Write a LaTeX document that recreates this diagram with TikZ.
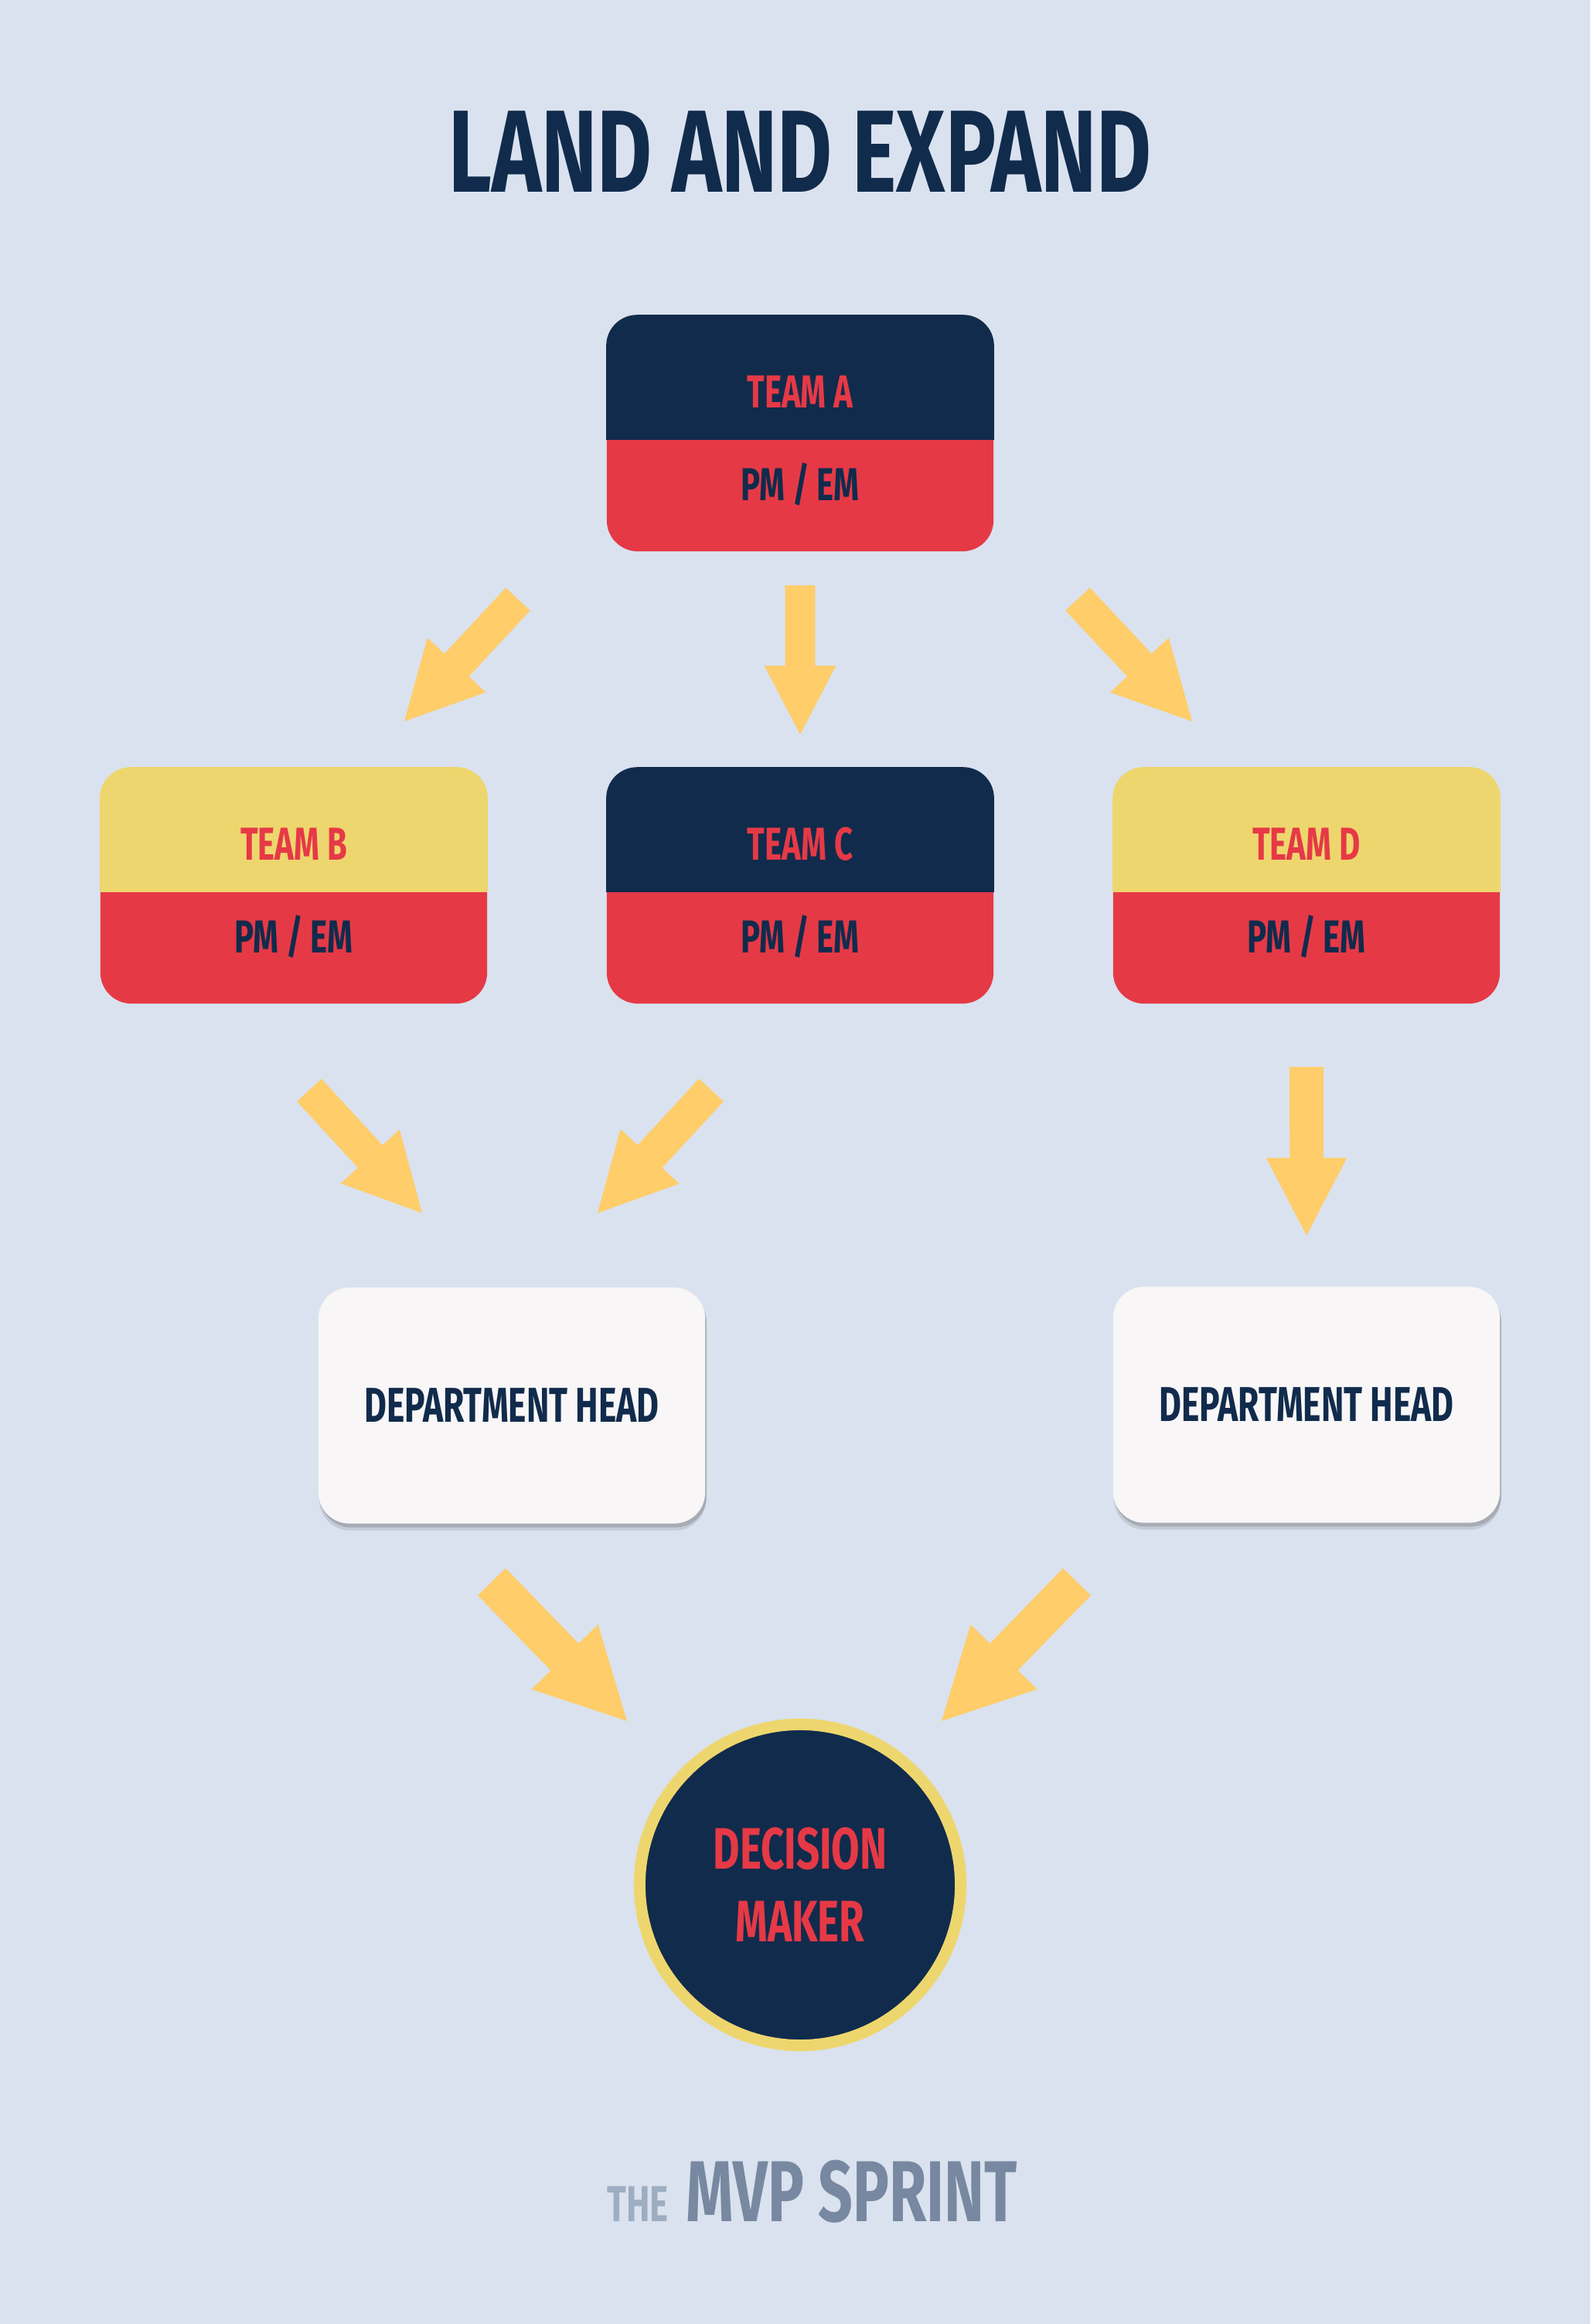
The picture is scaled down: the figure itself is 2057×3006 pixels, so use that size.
\documentclass[tikz,border=0pt]{standalone}
\usepackage{fontspec}
\setmainfont{Fira Sans}
\newfontfamily\condfont{Fira Sans}[FakeStretch=0.7]
\newfontfamily\titlefont{Fira Sans}[FakeStretch=0.72]
\usetikzlibrary{calc,shadows}
\definecolor{bgblue}{HTML}{DAE2EF}
\definecolor{navy}{HTML}{112B4C}
\definecolor{teamred}{HTML}{E63946}
\definecolor{teamyellow}{HTML}{EED66E}
\definecolor{arrowyellow}{HTML}{FFCD69}
\definecolor{cardwhite}{HTML}{F8F6F7}
\definecolor{footgray}{HTML}{7788A0}
\definecolor{footlight}{HTML}{9EAEC2}

\begin{document}
\begin{tikzpicture}[x=0.01cm, y=-0.01cm,
    box/.style={minimum width=5cm, minimum height=3.05cm, rounded corners=0.4cm, inner sep=0pt},
    lbl/.style={font=\condfont\bfseries\fontsize{17}{20}\selectfont, inner sep=0pt, anchor=base},
    card/.style={box, fill=cardwhite, text=navy, font=\condfont\bfseries\fontsize{18}{20}\selectfont,
      drop shadow={shadow xshift=0.01cm, shadow yshift=-0.09cm, fill=black!40!bgblue, opacity=0.25},
      drop shadow={shadow xshift=0.02cm, shadow yshift=-0.05cm, fill=black!40!bgblue, opacity=0.45}},
    arrowfill/.style={fill=arrowyellow}]
    \fill[bgblue] (0,0) rectangle (2057,3006);
    \node[font=\titlefont\bfseries\fontsize{43}{50}\selectfont, text=navy] (title) at (1035,196) {LAND AND EXPAND};
    % team boxes: top band + PM / EM band
    \foreach \n/\x/\y/\c/\t in {A/1035/560.5/navy/TEAM A, B/380/1145.5/teamyellow/TEAM B,
        C/1035/1145.5/navy/TEAM C, D/1690/1145.5/teamyellow/TEAM D} {
      \node[box, fill=teamred] (team\n) at (\x,\y) {};
      \begin{scope}
        \clip (team\n.north west) rectangle ($(team\n.north east)+(0,161)$);
        \fill[\c, rounded corners=0.4cm] (team\n.north west) rectangle (team\n.south east);
      \end{scope}
      \node[lbl, text=teamred] (name\n) at ($(team\n.north)+(0,120)$) {\t};
      \node[lbl, text=navy] (role\n) at ($(team\n.north)+(0,240)$) {PM / EM};
    }
    \node[card] (headL) at (662,1818) {DEPARTMENT HEAD};
    \node[card] (headR) at (1690,1817) {DEPARTMENT HEAD};
    \node[circle, fill=navy, draw=teamyellow, line width=0.15cm, minimum size=4.15cm, inner sep=0pt,
      text=teamred, align=center, font=\condfont\bfseries\fontsize{21.5}{26.7}\selectfont]
      (decider) at (1035,2438) {DECISION\\MAKER};
    % arrows
    \coordinate (t1) at (670,775);   \coordinate (h1) at (523,933);
    \coordinate (t2) at (1035,757);  \coordinate (h2) at (1035,950);
    \coordinate (t3) at (1394,775);  \coordinate (h3) at (1542,933);
    \coordinate (t4) at (400,1410);  \coordinate (h4) at (546,1569);
    \coordinate (t5) at (920,1410);  \coordinate (h5) at (773,1569);
    \coordinate (t6) at (1690,1380); \coordinate (h6) at (1690,1598);
    \coordinate (t7) at (636,2046);  \coordinate (h7) at (811,2226);
    \coordinate (t8) at (1393,2046); \coordinate (h8) at (1218,2226);
    \foreach \i in {1,...,8}
      \fill[arrowfill] ($(t\i)!.1!90:(h\i)$) -- ($(t\i)!.54!(h\i)!.217!90:(h\i)$)
        -- ($(t\i)!.54!(h\i)!.52!90:(h\i)$) -- (h\i) -- ($(t\i)!.54!(h\i)!.52!-90:(h\i)$)
        -- ($(t\i)!.54!(h\i)!.217!-90:(h\i)$) -- ($(t\i)!.1!-90:(h\i)$) -- cycle;
    % footer
    \node[anchor=base west, inner sep=0pt, text=footlight, font=\condfont\bfseries\fontsize{18.6}{20}\selectfont]
      (the) at (785,2873) {THE};
    \node[anchor=base west, inner sep=0pt, text=footgray, font=\condfont\bfseries\fontsize{31.8}{36}\selectfont]
      (brand) at (887,2873) {MVP SPRINT};
\end{tikzpicture}
\end{document}
